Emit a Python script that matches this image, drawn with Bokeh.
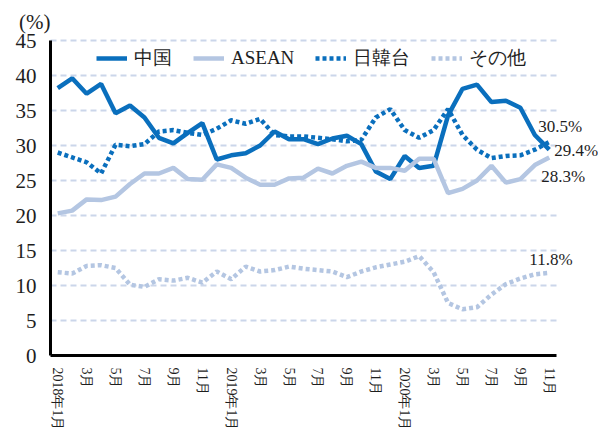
from bokeh.plotting import figure
from bokeh.models import Range1d, FixedTicker, Legend, LegendItem, Label
from bokeh.embed import file_html
from bokeh.resources import INLINE

months = ["2018年1月", "2月", "3月", "4月", "5月", "6月", "7月", "8月", "9月", "10月", "11月", "12月",
          "2019年1月", "2月", "3月", "4月", "5月", "6月", "7月", "8月", "9月", "10月", "11月", "12月",
          "2020年1月", "2月", "3月", "4月", "5月", "6月", "7月", "8月", "9月", "10月", "11月"]

china = [38.2, 39.6, 37.4, 38.8, 34.6, 35.7, 34.0, 31.1, 30.3, 31.8, 33.2, 28.0,
         28.6, 28.9, 30.0, 32.0, 30.9, 30.9, 30.2, 31.0, 31.4, 30.2, 26.3, 25.2,
         28.5, 26.8, 27.1, 34.3, 38.1, 38.7, 36.2, 36.4, 35.4, 31.5, 29.4]
asean = [20.3, 20.7, 22.3, 22.2, 22.7, 24.5, 26.0, 26.0, 26.8, 25.2, 25.1, 27.3,
         26.8, 25.4, 24.4, 24.4, 25.3, 25.4, 26.7, 26.0, 27.1, 27.7, 26.8, 26.8,
         26.4, 28.1, 28.1, 23.2, 23.8, 25.0, 27.1, 24.7, 25.2, 27.2, 28.3]
jkt = [29.0, 28.3, 27.6, 26.0, 30.1, 29.9, 30.2, 32.0, 32.2, 31.8, 31.5, 32.4,
       33.6, 33.1, 33.8, 31.5, 31.3, 31.3, 31.1, 30.9, 30.6, 30.8, 34.0, 35.2,
       32.2, 31.1, 32.2, 35.2, 31.5, 29.4, 28.2, 28.5, 28.6, 29.4, 30.5]
other = [11.9, 11.7, 12.8, 12.9, 12.5, 10.1, 9.8, 10.9, 10.7, 11.1, 10.4, 12.0,
         10.9, 12.7, 12.0, 12.2, 12.7, 12.4, 12.2, 12.0, 11.2, 12.0, 12.6, 13.0,
         13.4, 14.2, 11.9, 7.5, 6.6, 6.9, 8.7, 10.2, 11.0, 11.6, 11.8]

series_names = ["中国", "ASEAN", "日韓台", "その他"]
y_ticks = [0, 5, 10, 15, 20, 25, 30, 35, 40, 45]

FONT = "Liberation Serif"
DARK = "#0a6fbd"
LIGHT = "#b4c6e2"
TXT = "#1e1e1e"

W, H = 598, 431
# plot area in canvas pixels
PX_LEFT, PX_RIGHT, PX_TOP, PX_BOTTOM = 50, 556, 40, 355
n = len(months)
y_max = y_ticks[-1]
sx = (PX_RIGHT - PX_LEFT) / n
sy = (PX_BOTTOM - PX_TOP) / y_max
x_start = -0.5 - PX_LEFT / sx
x_end = x_start + W / sx
y_start = -(H - PX_BOTTOM) / sy
y_end = y_max + PX_TOP / sy

x = list(range(n))

p = figure(width=W, height=H, output_backend="svg", toolbar_location=None, title=None,
           x_range=Range1d(x_start, x_end), y_range=Range1d(y_start, y_end),
           min_border=0)
p.outline_line_color = None
p.background_fill_color = "white"
p.grid.visible = False

# dashed horizontal gridlines over the plot area
gl = y_ticks[1:]
p.segment(x0=[-0.5] * len(gl), y0=gl, x1=[n - 0.5] * len(gl), y1=gl,
          line_color="#cbd6ea", line_width=2, line_dash="6 4")

r_china = p.line(x, china, line_color=DARK, line_width=4.5)
r_asean = p.line(x, asean, line_color=LIGHT, line_width=4.5)
r_jkt = p.line(x, jkt, line_color=DARK, line_width=4.5, line_dash="4 3")
r_other = p.line(x, other, line_color=LIGHT, line_width=4.5, line_dash="4 3")

# axes (fixed at the data origin so they take no extra panel space)
p.xaxis.fixed_location = 0
p.xaxis.bounds = (-0.5, n - 0.5)
p.xaxis.ticker = FixedTicker(ticks=x[::2])
p.xaxis.major_label_overrides = {i: months[i] for i in x[::2]}
p.xaxis.major_label_orientation = "vertical"
p.xaxis.major_label_text_font = FONT
p.xaxis.major_label_text_font_size = "14px"
p.xaxis.major_label_text_color = TXT
p.xaxis.major_label_standoff = 6
p.xaxis.major_tick_line_color = None
p.xaxis.minor_tick_line_color = None
p.xaxis.axis_line_color = "black"
p.xaxis.axis_line_width = 3

p.yaxis.fixed_location = -0.5
p.yaxis.bounds = (0, y_max)
p.yaxis.ticker = FixedTicker(ticks=y_ticks)
p.yaxis.major_label_text_font = FONT
p.yaxis.major_label_text_font_size = "21px"
p.yaxis.major_label_text_color = TXT
p.yaxis.major_label_standoff = 8
p.yaxis.major_tick_line_color = None
p.yaxis.minor_tick_line_color = None
p.yaxis.axis_line_color = "black"
p.yaxis.axis_line_width = 3

# (%) unit label
p.add_layout(Label(x=-0.5, y=y_max, text="(%)", text_align="right", text_baseline="middle",
                   x_offset=0, y_offset=19, text_font=FONT, text_font_size="21px",
                   text_color=TXT))

# end-of-series value labels
last = n - 1
end_specs = [(jkt[-1], -11, 16), (china[-1], 5, -1), (asean[-1], -8, -19), (other[-1], -20, 13)]
for val, dx, dy in end_specs:
    p.add_layout(Label(x=last, y=val, text="{:.1f}%".format(val), text_align="left",
                       text_baseline="middle", x_offset=dx, y_offset=dy,
                       text_font=FONT, text_font_size="17px", text_color=TXT))

legend = Legend(items=[LegendItem(label=series_names[0], renderers=[r_china]),
                       LegendItem(label=series_names[1], renderers=[r_asean]),
                       LegendItem(label=series_names[2], renderers=[r_jkt]),
                       LegendItem(label=series_names[3], renderers=[r_other])],
                orientation="horizontal", location=(96, H - 71),
                glyph_width=31, glyph_height=20, label_height=20,
                label_standoff=7, spacing=21, padding=0, margin=0,
                border_line_color=None, background_fill_alpha=0,
                label_text_font=FONT, label_text_font_size="19px",
                label_text_color=TXT)
p.add_layout(legend)

open("out.html", "w").write(file_html(p, INLINE))
